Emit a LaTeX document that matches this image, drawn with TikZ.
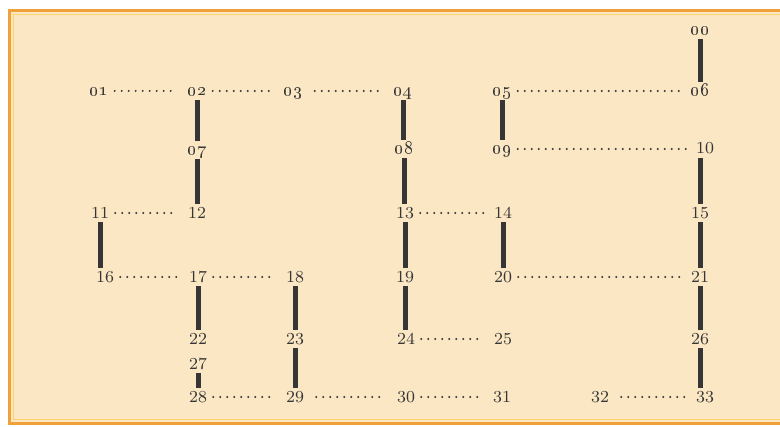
\documentclass[tikz,border=0pt]{standalone}
\usetikzlibrary{calc}
\definecolor{paper}{HTML}{FBE7C3}
\definecolor{frameorange}{HTML}{F0A23A}
\definecolor{frameyellow}{HTML}{FAD46E}
\definecolor{ink}{HTML}{363636}
\newlength{\BarWidth}
\newlength{\DotGap}
\setlength{\BarWidth}{2.5pt}
\setlength{\DotGap}{3.5pt}
\tikzset{
  num/.style={text=ink, font=\fontsize{8.4}{9}\selectfont, inner sep=2pt, text height=5pt, text depth=0pt},
  bar/.style={draw=ink, line width=\BarWidth},
  dots/.style={draw=ink, line width=1.1pt, line cap=round, dash pattern=on 0pt off \DotGap, shorten <=1pt, shorten >=3pt},
}
\newcommand{\os}[1]{{\fontsize{9}{9}\selectfont\oldstylenums{#1}}}

\begin{document}
\begin{tikzpicture}[x=0.5pt, y=-0.5pt]
  \useasboundingbox (0,0) rectangle (780,427);
  \fill[white] (0,0) rectangle (780,427);
  \fill[paper] (8,10) rectangle (780,424);
  \draw[frameorange, line width=1.5pt] (780,11) -- (9.5,11) -- (9.5,423) -- (780,423);
  \draw[frameyellow, line width=0.5pt] (780,14.5) -- (13,14.5) -- (13,419.5) -- (780,419.5);

  \node[num] (n00) at (700,30) {\os{00}};

  \node[num] (n01) at (99,91) {\os{01}};
  \node[num] (n02) at (197,91) {\os{02}};
  \node[num] (n03) at (293,91) {\os{03}};
  \node[num] (n04) at (403,91) {\os{04}};
  \node[num] (n05) at (502,91) {\os{05}};
  \node[num] (n06) at (700,91) {\os{06}};

  \node[num] (n07) at (197,150) {\os{07}};
  \node[num] (n08) at (404,149) {\os{08}};
  \node[num] (n09) at (502,149) {\os{09}};
  \node[num] (n10) at (705,149) {10};

  \node[num] (n11) at (100,213) {11};
  \node[num] (n12) at (197,213) {12};
  \node[num] (n13) at (405,213) {13};
  \node[num] (n14) at (503,213) {14};
  \node[num] (n15) at (700,213) {15};

  \node[num] (n16) at (105,277) {16};
  \node[num] (n17) at (198,277) {17};
  \node[num] (n18) at (295,277) {18};
  \node[num] (n19) at (405,277) {19};
  \node[num] (n20) at (503,277) {20};
  \node[num] (n21) at (700,277) {21};

  \node[num] (n22) at (198,339) {22};
  \node[num] (n23) at (295,339) {23};
  \node[num] (n24) at (406,339) {24};
  \node[num] (n25) at (503,339) {25};
  \node[num] (n26) at (700,339) {26};

  \node[num] (n27) at (198,364) {27};

  \node[num] (n28) at (198,397) {28};
  \node[num] (n29) at (295,397) {29};
  \node[num] (n30) at (406,397) {30};
  \node[num] (n31) at (502,397) {31};
  \node[num] (n32) at (600,397) {32};
  \node[num] (n33) at (705,397) {33};

  \draw[dots, shorten >=5.5pt] (n01.east) -- (n02.west);
  \draw[dots, shorten >=2pt] (n02.east) -- (n03.west);
  \draw[dots, shorten <=4pt, shorten >=4.5pt] (n03.east) -- (n04.west);
  \draw[dots] (n05.east) -- (n06.west);
  \draw[dots] (n09.east) -- (n10.west);
  \draw[dots] (n11.east) -- (n12.west);
  \draw[dots] (n13.east) -- (n14.west);
  \draw[dots] (n16.east) -- (n17.west);
  \draw[dots] (n17.east) -- (n18.west);
  \draw[dots] (n20.east) -- (n21.west);
  \draw[dots] (n24.east) -- (n25.west);
  \draw[dots] (n28.east) -- (n29.west);
  \draw[dots, shorten <=4pt, shorten >=4.5pt] (n29.east) -- (n30.west);
  \draw[dots] (n30.east) -- (n31.west);
  \draw[dots, shorten <=4pt] (n32.east) -- (n33.west);

  \draw[bar] (n00.south) -- (n00.south |- n06.north);
  \draw[bar] (n02.south) -- (n02.south |- n07.north);
  \draw[bar] (n07.south) -- (n07.south |- n12.north);
  \draw[bar] (n04.south) -- (n04.south |- n08.north);
  \draw[bar] (n08.south) -- (n08.south |- n13.north);
  \draw[bar] (n05.south) -- (n05.south |- n09.north);
  \draw[bar] (n15.north) -- (n15.north |- n10.south);
  \draw[bar] (n11.south) -- (n11.south |- n16.north);
  \draw[bar] (n13.south) -- (n13.south |- n19.north);
  \draw[bar] (n14.south) -- (n14.south |- n20.north);
  \draw[bar] (n15.south) -- (n15.south |- n21.north);
  \draw[bar] (n17.south) -- (n17.south |- n22.north);
  \draw[bar] (n18.south) -- (n18.south |- n23.north);
  \draw[bar] (n19.south) -- (n19.south |- n24.north);
  \draw[bar] (n21.south) -- (n21.south |- n26.north);
  \draw[bar] (n27.south) -- (n27.south |- n28.north);
  \draw[bar] (n23.south) -- (n23.south |- n29.north);
  \draw[bar] (n26.south) -- (n26.south |- n33.north);
\end{tikzpicture}
\end{document}
